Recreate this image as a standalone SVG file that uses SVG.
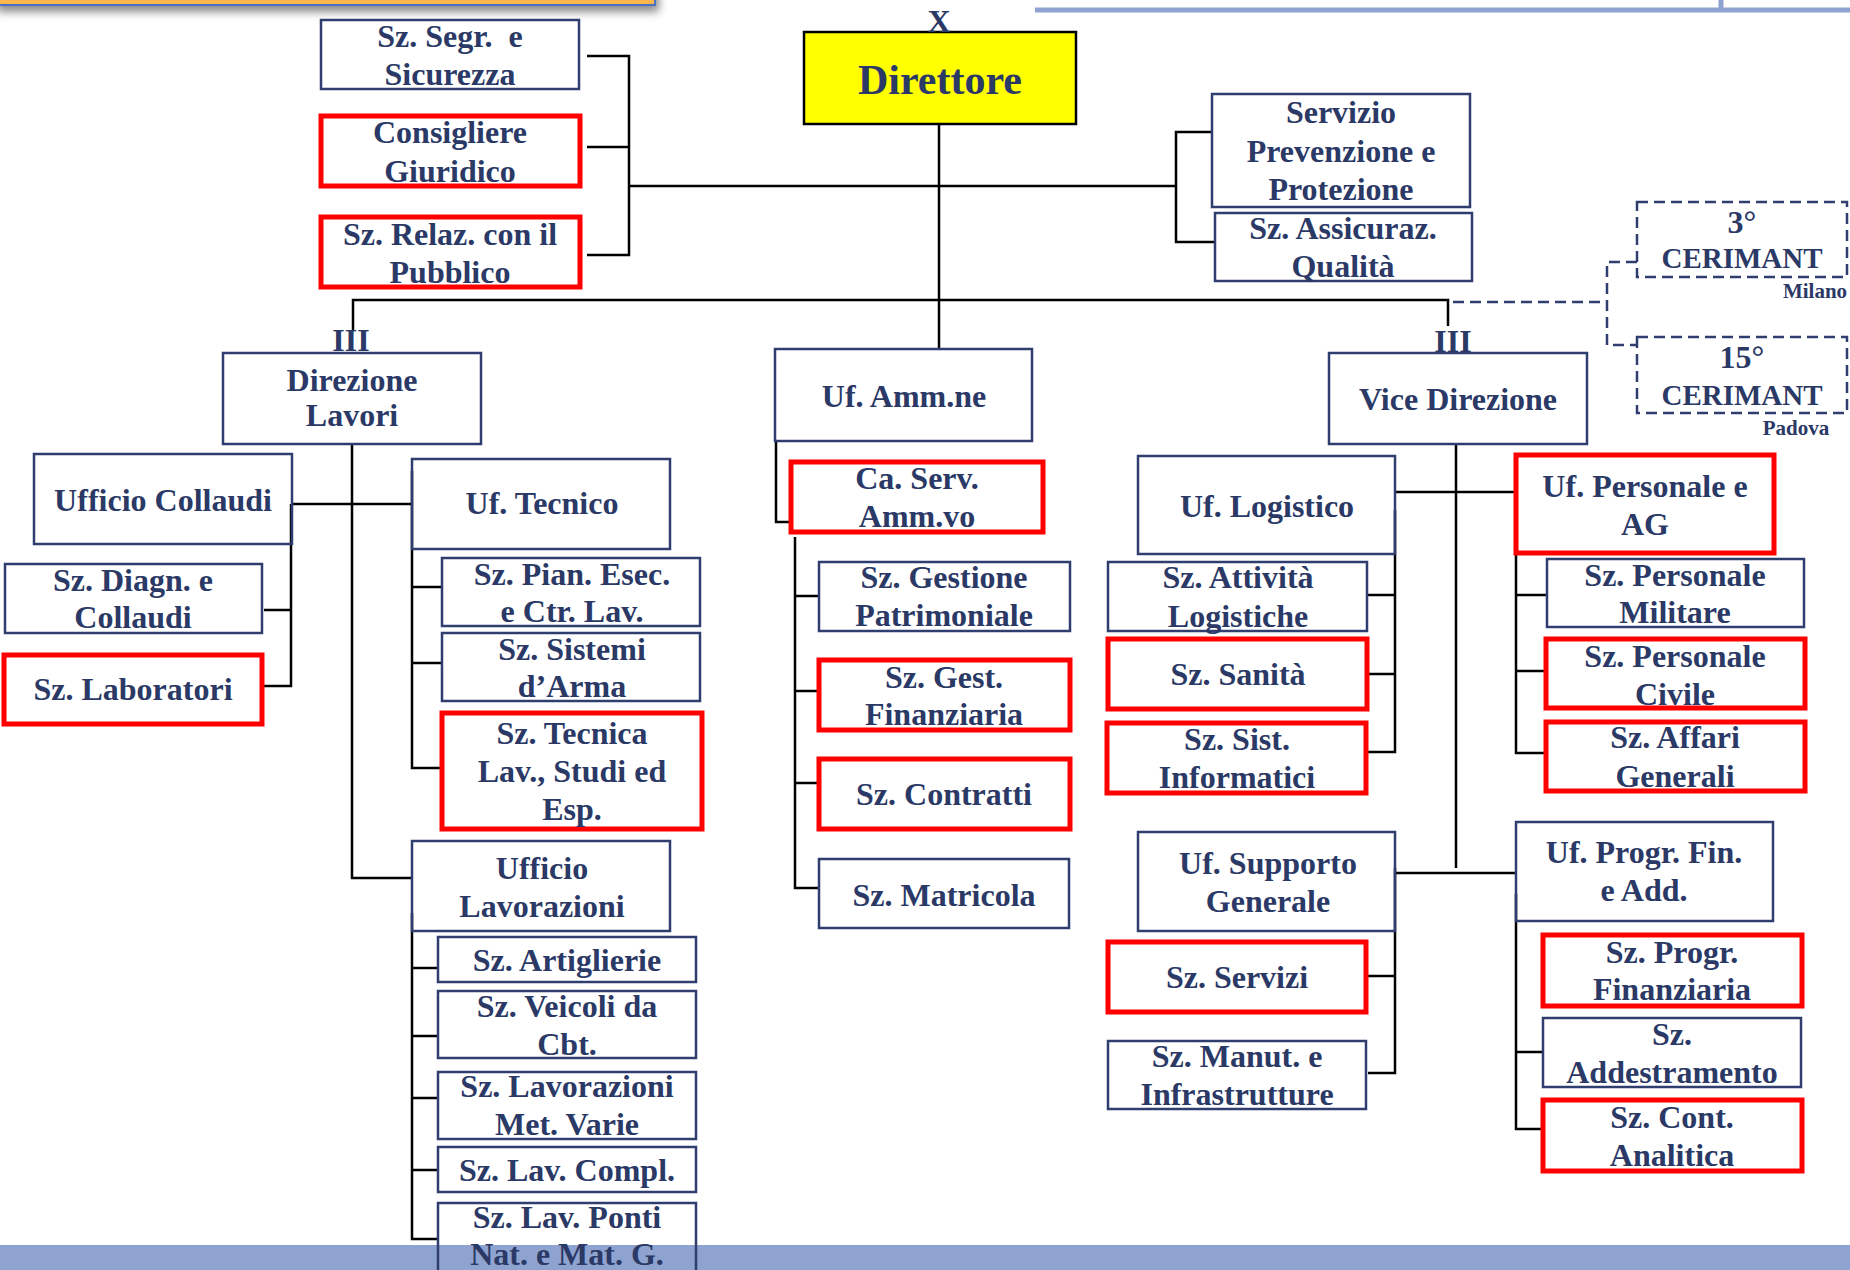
<svg xmlns="http://www.w3.org/2000/svg" width="1850" height="1270" viewBox="0 0 1850 1270">
<defs>
<filter id="sh" x="-5%" y="-50%" width="110%" height="300%">
<feDropShadow dx="3" dy="6" stdDeviation="4" flood-color="#000" flood-opacity="0.45"/>
</filter>
<style>
.box{fill:none;stroke:#2F3E6E;stroke-width:2.5}
.red{fill:none;stroke:#FF0000;stroke-width:5}
.dsh{fill:none;stroke:#2F3E6E;stroke-width:2.5;stroke-dasharray:11 6}
.t{font-family:"Liberation Serif","Times New Roman",serif;font-weight:bold;font-size:32px;fill:#2B3966;text-anchor:middle}
.s{font-size:21px}
.c{font-size:29px}
.ln{fill:none;stroke:#000;stroke-width:2.5}
</style>
</defs>
<rect x="0" y="0" width="1850" height="1270" fill="#fff"/>
<rect x="0" y="1245" width="1850" height="25" fill="#8FA3D0"/>
<rect x="-5" y="-20" width="660" height="25" fill="#FAB54E" stroke="#4472C4" stroke-width="2" filter="url(#sh)"/>
<path d="M1035 10 H1850 M1721 0 V10" fill="none" stroke="#8EA3D2" stroke-width="5"/>

<g id="connectors">
<path class="ln" d="M939 124 V349"/>
<path class="ln" d="M629 186 H1176"/>
<path class="ln" d="M587 56 H629 V255 H587 M587 147 H629"/>
<path class="ln" d="M1213 132 H1176 V242 H1214"/>
<path class="ln" d="M353 330 V300 H1448 V326" stroke-width="3"/>
<path class="dsh" d="M1453 302 H1607 M1637 262 H1607 V345 H1637"/>
<path class="ln" d="M352 444 V878 H412"/>
<path class="ln" d="M292 504 H412"/>
<path class="ln" d="M291 504 V686 H264 M264 610 H291"/>
<path class="ln" d="M412 471 V768 H442 M412 587 H442 M412 663 H442"/>
<path class="ln" d="M412 913 V1239 H438 M412 968 H438 M412 1036 H438 M412 1098 H438 M412 1170 H438"/>
<path class="ln" d="M776 441 V522 H791"/>
<path class="ln" d="M795 537 V888 H819 M795 596 H819 M795 691 H819 M795 783 H819"/>
<path class="ln" d="M1456 444 V868"/>
<path class="ln" d="M1395 492 H1516"/>
<path class="ln" d="M1395 510 V752 H1367 M1395 595 H1367 M1395 674 H1367"/>
<path class="ln" d="M1516 538 V753 H1547 M1516 595 H1547 M1516 671 H1547"/>
<path class="ln" d="M1395 873 H1516"/>
<path class="ln" d="M1395 868 V1073 H1368 M1395 976 H1368"/>
<path class="ln" d="M1516 894 V1129 H1543 M1516 1052 H1543"/>
</g>

<g id="n_segr"><rect class="box" x="321" y="20" width="258" height="69"/><text class="t" x="450" y="47" style="white-space:pre">Sz. Segr.  e</text><text class="t" x="450" y="85">Sicurezza</text></g>
<g id="n_consigliere"><rect class="red" x="321" y="116" width="259" height="70"/><text class="t" x="450" y="143">Consigliere</text><text class="t" x="450" y="182">Giuridico</text></g>
<g id="n_relaz"><rect class="red" x="321" y="217" width="259" height="70"/><text class="t" x="450" y="245">Sz. Relaz. con il</text><text class="t" x="450" y="283">Pubblico</text></g>
<g id="n_direttore"><rect x="804" y="32" width="272" height="92" fill="#FFFF00" stroke="#000" stroke-width="2.5"/><text class="t" x="939" y="32">X</text><text class="t" x="940" y="94" style="font-size:42px">Direttore</text></g>
<g id="n_spp"><rect class="box" x="1212" y="94" width="258" height="113"/><text class="t" x="1341" y="123">Servizio</text><text class="t" x="1341" y="162">Prevenzione e</text><text class="t" x="1341" y="200">Protezione</text></g>
<g id="n_assic"><rect class="box" x="1215" y="213" width="257" height="68"/><text class="t" x="1343" y="239">Sz. Assicuraz.</text><text class="t" x="1343" y="277">Qualità</text></g>
<g id="n_cer3"><rect class="dsh" x="1637" y="202" width="210" height="75"/><text class="t" x="1742" y="233">3°</text><text class="t c" x="1742" y="268">CERIMANT</text><text class="t s" x="1815" y="298">Milano</text></g>
<g id="n_cer15"><rect class="dsh" x="1637" y="337" width="210" height="76"/><text class="t" x="1742" y="368">15°</text><text class="t c" x="1742" y="405">CERIMANT</text><text class="t s" x="1796" y="435">Padova</text></g>
<g id="n_dirlav"><rect class="box" x="223" y="353" width="258" height="91"/><text class="t" x="351" y="351">III</text><text class="t" x="352" y="391">Direzione</text><text class="t" x="352" y="426">Lavori</text></g>
<g id="n_vice"><rect class="box" x="1329" y="353" width="258" height="91"/><text class="t" x="1453" y="352">III</text><text class="t" x="1458" y="410">Vice Direzione</text></g>
<g id="n_ammne"><rect class="box" x="775" y="349" width="257" height="92"/><text class="t" x="904" y="407">Uf. Amm.ne</text></g>
<g id="n_collaudi"><rect class="box" x="34" y="454" width="258" height="90"/><text class="t" x="163" y="511">Ufficio Collaudi</text></g>
<g id="n_tecnico"><rect class="box" x="412" y="459" width="258" height="90"/><text class="t" x="542" y="514">Uf. Tecnico</text></g>
<g id="n_diagn"><rect class="box" x="5" y="564" width="257" height="69"/><text class="t" x="133" y="591">Sz. Diagn. e</text><text class="t" x="133" y="628">Collaudi</text></g>
<g id="n_lab"><rect class="red" x="4" y="655" width="258" height="69"/><text class="t" x="133" y="700">Sz. Laboratori</text></g>
<g id="n_pian"><rect class="box" x="442" y="558" width="258" height="68"/><text class="t" x="572" y="585">Sz. Pian. Esec.</text><text class="t" x="572" y="622">e Ctr. Lav.</text></g>
<g id="n_sistemi"><rect class="box" x="442" y="633" width="258" height="68"/><text class="t" x="572" y="660">Sz. Sistemi</text><text class="t" x="572" y="697">d’Arma</text></g>
<g id="n_tecnica"><rect class="red" x="442" y="713" width="260" height="116"/><text class="t" x="572" y="744">Sz. Tecnica</text><text class="t" x="572" y="782">Lav., Studi ed</text><text class="t" x="572" y="820">Esp.</text></g>
<g id="n_lavorazioni"><rect class="box" x="412" y="841" width="258" height="90"/><text class="t" x="542" y="879">Ufficio</text><text class="t" x="542" y="917">Lavorazioni</text></g>
<g id="n_artiglierie"><rect class="box" x="438" y="937" width="258" height="45"/><text class="t" x="567" y="971">Sz. Artiglierie</text></g>
<g id="n_veicoli"><rect class="box" x="438" y="991" width="258" height="67"/><text class="t" x="567" y="1017">Sz. Veicoli da</text><text class="t" x="567" y="1055">Cbt.</text></g>
<g id="n_lavmet"><rect class="box" x="438" y="1072" width="258" height="67"/><text class="t" x="567" y="1097">Sz. Lavorazioni</text><text class="t" x="567" y="1135">Met. Varie</text></g>
<g id="n_lavcompl"><rect class="box" x="438" y="1147" width="258" height="45"/><text class="t" x="567" y="1181">Sz. Lav. Compl.</text></g>
<g id="n_ponti"><rect class="box" x="438" y="1203" width="258" height="72"/><text class="t" x="567" y="1228">Sz. Lav. Ponti</text><text class="t" x="567" y="1265">Nat. e Mat. G.</text></g>
<g id="n_caserv"><rect class="red" x="791" y="462" width="252" height="70"/><text class="t" x="917" y="489">Ca. Serv.</text><text class="t" x="917" y="527">Amm.vo</text></g>
<g id="n_gestpat"><rect class="box" x="819" y="562" width="251" height="69"/><text class="t" x="944" y="588">Sz. Gestione</text><text class="t" x="944" y="626">Patrimoniale</text></g>
<g id="n_gestfin"><rect class="red" x="819" y="660" width="251" height="70"/><text class="t" x="944" y="688">Sz. Gest.</text><text class="t" x="944" y="725">Finanziaria</text></g>
<g id="n_contratti"><rect class="red" x="819" y="759" width="251" height="70"/><text class="t" x="944" y="805">Sz. Contratti</text></g>
<g id="n_matricola"><rect class="box" x="819" y="859" width="250" height="69"/><text class="t" x="944" y="906">Sz. Matricola</text></g>
<g id="n_logistico"><rect class="box" x="1138" y="456" width="257" height="98"/><text class="t" x="1267" y="517">Uf. Logistico</text></g>
<g id="n_attivita"><rect class="box" x="1108" y="562" width="259" height="69"/><text class="t" x="1238" y="588">Sz. Attività</text><text class="t" x="1238" y="627">Logistiche</text></g>
<g id="n_sanita"><rect class="red" x="1108" y="639" width="259" height="70"/><text class="t" x="1238" y="685">Sz. Sanità</text></g>
<g id="n_sist"><rect class="red" x="1107" y="723" width="259" height="70"/><text class="t" x="1237" y="750">Sz. Sist.</text><text class="t" x="1237" y="788">Informatici</text></g>
<g id="n_personale"><rect class="red" x="1516" y="455" width="258" height="98"/><text class="t" x="1645" y="497">Uf. Personale e</text><text class="t" x="1645" y="535">AG</text></g>
<g id="n_persmil"><rect class="box" x="1547" y="559" width="257" height="68"/><text class="t" x="1675" y="586">Sz. Personale</text><text class="t" x="1675" y="623">Militare</text></g>
<g id="n_persciv"><rect class="red" x="1546" y="639" width="259" height="69"/><text class="t" x="1675" y="667">Sz. Personale</text><text class="t" x="1675" y="705">Civile</text></g>
<g id="n_affari"><rect class="red" x="1546" y="722" width="259" height="69"/><text class="t" x="1675" y="748">Sz. Affari</text><text class="t" x="1675" y="787">Generali</text></g>
<g id="n_supporto"><rect class="box" x="1138" y="832" width="257" height="99"/><text class="t" x="1268" y="874">Uf. Supporto</text><text class="t" x="1268" y="912">Generale</text></g>
<g id="n_servizi"><rect class="red" x="1108" y="942" width="258" height="70"/><text class="t" x="1237" y="988">Sz. Servizi</text></g>
<g id="n_manut"><rect class="box" x="1108" y="1041" width="258" height="68"/><text class="t" x="1237" y="1067">Sz. Manut. e</text><text class="t" x="1237" y="1105">Infrastrutture</text></g>
<g id="n_progr"><rect class="box" x="1516" y="822" width="257" height="99"/><text class="t" x="1644" y="863">Uf. Progr. Fin.</text><text class="t" x="1644" y="901">e Add.</text></g>
<g id="n_progrfin"><rect class="red" x="1543" y="935" width="259" height="71"/><text class="t" x="1672" y="963">Sz. Progr.</text><text class="t" x="1672" y="1000">Finanziaria</text></g>
<g id="n_addestr"><rect class="box" x="1543" y="1018" width="258" height="69"/><text class="t" x="1672" y="1045">Sz.</text><text class="t" x="1672" y="1083">Addestramento</text></g>
<g id="n_cont"><rect class="red" x="1543" y="1100" width="259" height="71"/><text class="t" x="1672" y="1128">Sz. Cont.</text><text class="t" x="1672" y="1166">Analitica</text></g>
</svg>
